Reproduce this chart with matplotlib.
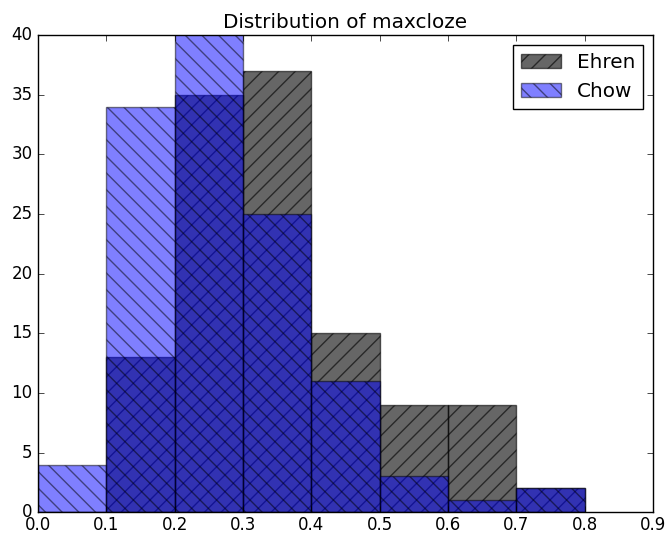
import numpy as np
import matplotlib.pyplot as plt

plt.style.use('classic')

bins = np.arange(0.0, 0.8, 0.1)
ehren = [0, 13, 35, 37, 15, 9, 9, 2]
chow = [4, 34, 44, 25, 11, 3, 1, 2]

fig = plt.figure(figsize=(6.67, 5.33), dpi=100)
ax = fig.add_axes([0.057, 0.039, 0.922, 0.895])
ax.bar(bins, ehren, width=0.1, align='edge', color='k', alpha=0.6,
       hatch='//', edgecolor='k', label='Ehren')
ax.bar(bins, chow, width=0.1, align='edge', color='b', alpha=0.5,
       hatch='\\\\', edgecolor='k', label='Chow')
ax.set_xlim(0, 0.9)
ax.set_ylim(0, 40)
ax.set_xticks(np.arange(0, 0.91, 0.1))
ax.tick_params(axis='x', pad=2.5)
ax.set_title('Distribution of maxcloze')
ax.legend(loc='upper right')
fig.savefig('out.png', dpi=100)
